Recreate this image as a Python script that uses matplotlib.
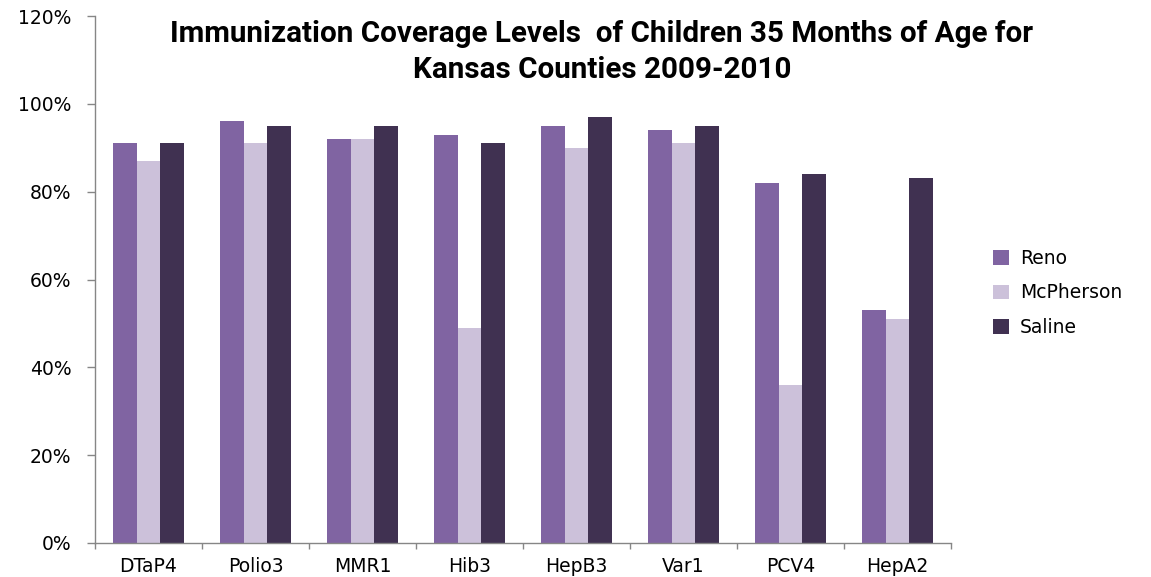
import matplotlib
matplotlib.use("Agg")
import matplotlib.pyplot as plt
import numpy as np
from matplotlib.ticker import FixedLocator, PercentFormatter

categories = ["DTaP4", "Polio3", "MMR1", "Hib3", "HepB3", "Var1", "PCV4", "HepA2"]
reno = [91, 96, 92, 93, 95, 94, 82, 53]
mcpherson = [87, 91, 92, 49, 90, 91, 36, 51]
saline = [91, 95, 95, 91, 97, 95, 84, 83]
series_names = ["Reno", "McPherson", "Saline"]
colors = ["#8064A2", "#CCC1DA", "#403151"]
yticks = [0, 20, 40, 60, 80, 100, 120]
title = "Immunization Coverage Levels  of Children 35 Months of Age for\nKansas Counties 2009-2010"

plt.rcParams["font.family"] = ["DejaVu Sans"]

fig = plt.figure(figsize=(11.51, 5.77), dpi=100)
ax = fig.add_axes([95/1151, 1-543/577, (951-95)/1151, (543-16)/577])

x = np.arange(len(categories))
w = 1/4.5
for i, (vals, name, c) in enumerate(zip([reno, mcpherson, saline], series_names, colors)):
    ax.bar(x + (i-1)*w, vals, width=w, color=c, label=name, edgecolor="none")

ax.set_xlim(-0.5, len(categories)-0.5)
ax.set_ylim(0, 120)
ax.set_yticks(yticks)
ax.yaxis.set_major_formatter(PercentFormatter(decimals=0))
ax.set_xticks(x)
ax.set_xticklabels(categories)
ax.xaxis.set_minor_locator(FixedLocator(np.arange(-0.5, len(categories), 1.0)))
ax.tick_params(axis="x", which="major", length=0, pad=10, labelsize=13.5)
ax.tick_params(axis="x", which="minor", length=4, color="#868686", width=1)
ax.tick_params(axis="y", length=6, color="#868686", width=1, labelsize=13.5, pad=11)
for s in ["top", "right"]:
    ax.spines[s].set_visible(False)
for s in ["left", "bottom"]:
    ax.spines[s].set_color("#868686")
    ax.spines[s].set_linewidth(1)

fig.text(602/1151, 1-52/577, title, ha="center", va="center", fontsize=21.3,
         fontweight="bold", family="Roboto", linespacing=1.38)

leg = ax.legend(loc="center left", bbox_to_anchor=(976/1151, 1-293/577),
                bbox_transform=fig.transFigure, frameon=False,
                prop={"family": "DejaVu Sans", "size": 13.5},
                handlelength=0.85, handleheight=0.85, labelspacing=0.85, handletextpad=0.6)

fig.savefig("out.png", dpi=100)
